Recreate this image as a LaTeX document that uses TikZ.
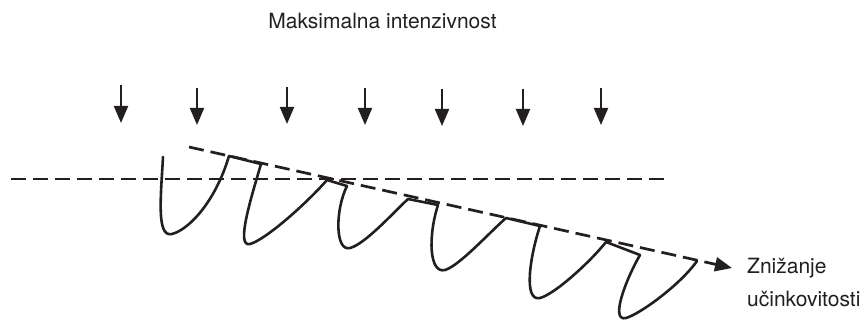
\documentclass[tikz,border=0pt]{standalone}
\usepackage{fontspec}
\setmainfont{TeX Gyre Heros}
\usetikzlibrary{arrows.meta}
\definecolor{ink}{RGB}{35,31,32}
\begin{document}
\begin{tikzpicture}[x=1pt,y=-1pt,
  lbl/.style={inner sep=0pt, font=\fontsize{21}{25}\selectfont, text=ink},
  intarrow/.style={draw=ink, line width=2pt, -{Triangle[length=17pt,width=14pt]}},
  dashline/.style={draw=ink, line width=2.7pt, dash pattern=on 15pt off 7pt},
  curve/.style={draw=ink, line width=2.6pt, line join=round, line cap=round},
]
\useasboundingbox (0,0) rectangle (867,320);

% title
\node[lbl, anchor=base] (title) at (382.5,29) {Maksimalna intenzivnost};

% intensity arrows
\foreach \i/\x/\t/\b in {1/121/85/123, 2/197/88/125, 3/287/87/124, 4/365/88/125, 5/442/89/126, 6/523/89/126, 7/601/88/125}{
  \coordinate (s\i) at (\x,\t);
  \coordinate (e\i) at (\x,\b);
  \draw[intarrow] (s\i) -- (e\i);
}

% horizontal dashed line
\coordinate (hl) at (11,179);
\coordinate (hr) at (665,179);
\draw[dashline] (hl) -- (hr);

% sloped dashed arrow
\coordinate (ds) at (189,147);
\coordinate (de) at (732,268);
\draw[dashline, -{Triangle[length=17pt,width=14pt]}] (ds) -- (de);

% labels
\node[lbl, anchor=base west] (z1) at (747,273) {Znižanje};
\node[lbl, anchor=base west] (z2) at (747,306) {učinkovitosti};

% hand-drawn curve
\draw[curve]
  (163,157) .. controls (161,195) and (156,238) .. (172,234)
            .. controls (188,230) and (215,203) .. (229,156)
  -- (261,164)
            .. controls (252,195) and (235,248) .. (250,244)
            .. controls (265,240) and (305,205) .. (327,180)
  -- (347,186)
            .. controls (335,210) and (335,252) .. (350,248)
            .. controls (365,244) and (392,214) .. (408,199)
  -- (438,205)
            .. controls (428,236) and (429,274) .. (445,270)
            .. controls (459,266) and (490,232) .. (506,218)
  -- (540,226)
            .. controls (530,256) and (523,302) .. (540,298)
            .. controls (555,294) and (590,262) .. (606,242)
  -- (640,255)
            .. controls (625,281) and (610,322) .. (626,318)
            .. controls (640,314) and (680,285) .. (697,261);
\end{tikzpicture}
\end{document}
